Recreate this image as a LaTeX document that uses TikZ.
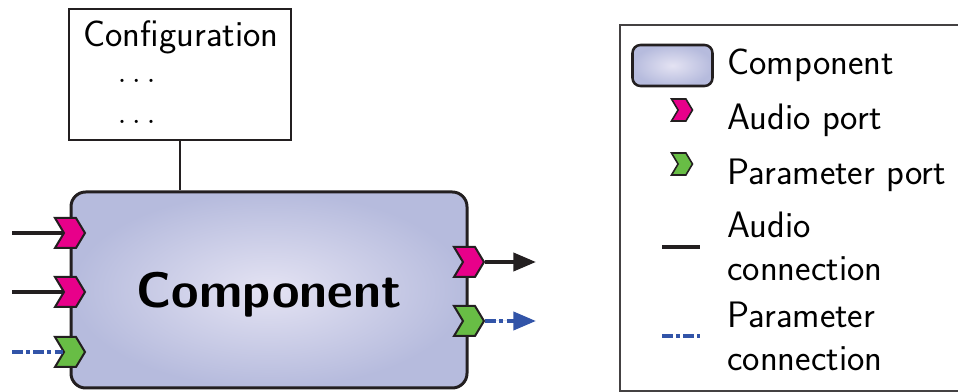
\documentclass[tikz,border=0pt]{standalone}
\usepackage{fontspec}
\usetikzlibrary{shapes.symbols,arrows.meta}
\tikzset{every picture/.style={line width=0.75pt}}
\definecolor{audiopink}{RGB}{232,0,138}
\definecolor{paramgreen}{RGB}{104,189,69}
\definecolor{paramblue}{RGB}{50,84,168}
\definecolor{compin}{RGB}{228,227,243}
\definecolor{compout}{RGB}{182,187,221}
\definecolor{edgegray}{RGB}{35,31,32}

\begin{document}
\begin{tikzpicture}[x=0.75pt,y=0.75pt,yscale=-1,xscale=1,
    font=\sffamily\fontsize{27.6}{33}\selectfont,
    comp/.style={draw=edgegray, line width=2.25pt, rounded corners=11pt, inner color=compin, outer color=compout},
    port/.style={signal, signal to=east, signal from=west, signal pointer angle=118, draw=edgegray, line width=1.5pt, inner sep=0pt, minimum width=22.5pt, minimum height=22.5pt},
    aport/.style={port, fill=audiopink},
    pport/.style={port, fill=paramgreen},
    legport/.style={line width=1.2pt, minimum width=15.75pt, minimum height=16.5pt},
    audio/.style={draw=edgegray, line width=3pt},
    param/.style={draw=paramblue, line width=3pt, dash pattern=on 8pt off 2.5pt on 3pt off 2.5pt},
    outarrow/.style={-{Triangle[length=17pt,width=13.5pt]}},
    txt/.style={anchor=base west, inner sep=0pt}
  ]
    \useasboundingbox (0,0) rectangle (958,392);

    %Shape: Configuration box
    \node [draw=edgegray, line width=1.5pt, minimum width=166.5pt, minimum height=98.25pt] (config) at (180,74.5) {};
    % Text Node
    \node [txt] (cfgtitle) at (83,47) {Configuration};
    % Text Node
    \node [txt] (cfgdots1) at (117,83) {$\ldots$};
    % Text Node
    \node [txt] (cfgdots2) at (117,124) {$\ldots$};

    %Shape: Component box
    \node [comp, minimum width=297pt, minimum height=147pt, text depth=0pt] (comp) at (269,290) {\fontsize{37.5}{44}\selectfont\bfseries Component};
    %Straight Lines
    \draw [edgegray, line width=1.5pt] (config.south) -- (config.south |- comp.north);

    %Ports
    \node [aport] (ain1) at (70,233) {};
    \node [aport] (ain2) at (70,292) {};
    \node [pport] (pin1) at (70,352) {};
    \node [aport] (aout1) at (469,262) {};
    \node [pport] (pout1) at (469,321) {};

    %Connections
    \coordinate (src1) at (12,233);
    \coordinate (src2) at (12,292);
    \coordinate (src3) at (12,352);
    \coordinate (dst1) at (536,262);
    \coordinate (dst2) at (536,321);
    \draw [audio] (src1) -- (ain1);
    \draw [audio] (src2) -- (ain2);
    \draw [param] (src3) -- (pin1);
    \draw [audio, outarrow] (aout1) -- (dst1);
    \draw [param, outarrow, fill=paramblue, paramblue] (pout1) -- (dst2);

    %Legend frame
    \draw [edgegray!85, line width=1.5pt] (962,25) -- (620,25) -- (620,391) -- (962,391);
    %Legend items
    \node [comp, rounded corners=6pt, line width=1.9pt, minimum width=60pt, minimum height=30.75pt] (legcomp) at (672.5,65.5) {};
    \node [aport, legport] (legaport) at (682,110) {};
    \node [pport, legport] (legpport) at (682,164) {};
    \coordinate (legaudioA) at (662,247);
    \coordinate (legaudioB) at (700,247);
    \coordinate (legparamA) at (662,336);
    \coordinate (legparamB) at (700,336);
    \draw [audio] (legaudioA) -- (legaudioB);
    \draw [param] (legparamA) -- (legparamB);

    % Text Node
    \node [txt] (legcomptxt) at (727,75) {Component};
    % Text Node
    \node [txt] (legaporttxt) at (727,130) {Audio port};
    % Text Node
    \node [txt] (legpporttxt) at (727,185) {Parameter port};
    % Text Node
    \node [txt] (legaudiotxt) at (727,238) {Audio};
    \node [txt] (legaudiotxt2) at (727,281) {connection};
    % Text Node
    \node [txt] (legparamtxt) at (727,328) {Parameter};
    \node [txt] (legparamtxt2) at (727,371) {connection};

\end{tikzpicture}
\end{document}
